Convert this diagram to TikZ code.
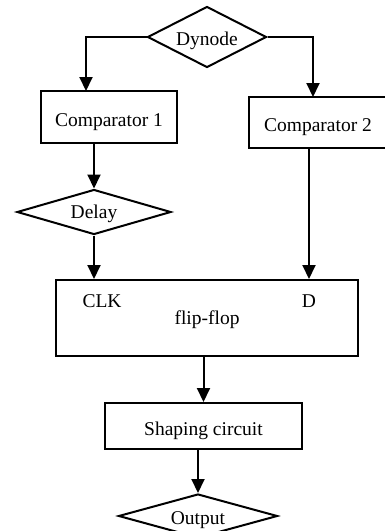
\documentclass[tikz,border=0pt]{standalone}
\usepackage{fontspec}
\setmainfont{Liberation Serif}
\usetikzlibrary{shapes.geometric,arrows.meta}
\newcommand{\bl}[2]{\raisebox{-#1pt}[0pt][0pt]{#2}}
\tikzset{
  box/.style={draw, line width=2pt, rectangle, inner sep=0pt},
  dia/.style={draw, line width=2pt, diamond, inner sep=0pt},
  lbl/.style={inner sep=0pt},
  arr/.style={line width=2pt, -{Triangle[length=14pt,width=13pt]}},
  con/.style={line width=2pt}
}
\begin{document}
\begin{tikzpicture}[x=1pt,y=-1pt,font=\fontsize{19.5}{23}\selectfont]
\useasboundingbox (0,0) rectangle (385,531);
\clip (0,0) rectangle (385,531);
\fill[white] (0,0) rectangle (385,531);
\node[dia, minimum width=119pt, minimum height=61pt, aspect=1.95] (dyn) at (207,37) {\bl{8}{Dynode}};
\node[box, minimum width=136pt, minimum height=52pt] (c1) at (109,117) {\bl{9}{Comparator 1}};
\node[box, minimum width=138pt, minimum height=51pt] (c2) at (318,122.5) {\bl{8.5}{Comparator 2}};
\node[dia, minimum width=154pt, minimum height=45pt, aspect=3.4] (delay) at (94,212) {\bl{6}{Delay}};
\node[box, minimum width=302pt, minimum height=76pt] (ff) at (207,318) {\bl{6}{flip-flop}};
\node[lbl] (clk) at (102,301.5) {CLK};
\node[lbl] (d) at (309,301.5) {D};
\node[box, minimum width=197pt, minimum height=46pt] (sh) at (203.5,426) {\bl{9}{Shaping circuit}};
\node[dia, minimum width=159pt, minimum height=44pt, aspect=3.6] (out) at (198,516) {\bl{8}{Output}};
\coordinate (c1in) at (86,91);
\coordinate (c2in) at (313,97);
\draw[arr] (dyn.west) -| (c1in);
\draw[arr] (dyn.east) -| (c2in);
\draw[arr] (delay.north |- c1.south) -- (delay.north);
\draw[arr] (delay.south) -- (delay.south |- ff.north);
\draw[arr] (d |- c2.south) -- (d |- ff.north);
\draw[arr] (sh.north |- ff.south) -- (sh.north);
\draw[arr] (out.north |- sh.south) -- (out.north);
\end{tikzpicture}
\end{document}
